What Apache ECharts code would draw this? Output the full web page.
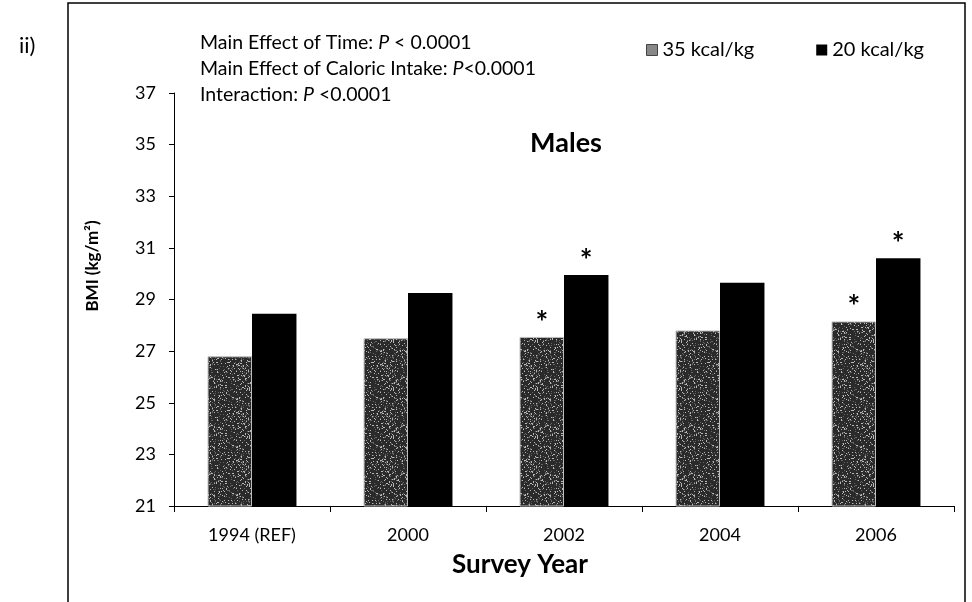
<!DOCTYPE html>
<html>
<head>
<meta charset="utf-8">
<script src="https://cdn.jsdelivr.net/npm/echarts@6/dist/echarts.min.js"></script>
<style>html,body{margin:0;padding:0;background:#fff}#chart{width:972px;height:602px}</style>
</head>
<body>
<div id="chart"></div>
<script>
const categories = ['1994 (REF)', '2000', '2002', '2004', '2006'];
const kcal35 = [26.8, 27.5, 27.55, 27.8, 28.15];
const kcal20 = [28.45, 29.25, 29.95, 29.65, 30.6];
const sig35 = [false, false, true, false, true];
const sig20 = [false, false, true, false, true];
const yTicks = [21, 23, 25, 27, 29, 31, 33, 35, 37];
const seriesNames = ['35 kcal/kg', '20 kcal/kg'];

const FONT = 'Lato';

function speckle() {
  const c = document.createElement('canvas');
  c.width = 48; c.height = 48;
  const ctx = c.getContext('2d');
  ctx.fillStyle = '#2a2a2a';
  ctx.fillRect(0, 0, 48, 48);
  for (let y = 0; y < 48; y++) {
    for (let x = 0; x < 48; x++) {
      const h = ((x * 73856093) ^ (y * 19349663) ^ (x * y * 83492791)) >>> 0;
      const v = h % 100;
      if (v < 10) { ctx.fillStyle = '#b8b8b8'; ctx.fillRect(x, y, 1, 1); }
      else if (v < 20) { ctx.fillStyle = '#666'; ctx.fillRect(x, y, 1, 1); }
    }
  }
  return c;
}

function checker() {
  const c = document.createElement('canvas');
  c.width = 2; c.height = 2;
  const ctx = c.getContext('2d');
  ctx.fillStyle = '#555'; ctx.fillRect(0, 0, 2, 2);
  ctx.fillStyle = '#bbb'; ctx.fillRect(0, 0, 1, 1); ctx.fillRect(1, 1, 1, 1);
  return c;
}

function withMarks(vals, flags) {
  return vals.map((v, i) => flags[i]
    ? { value: v, label: { show: true } }
    : { value: v });
}

const starLabel = {
  show: false, position: 'top', distance: -1, formatter: '*',
  fontSize: 30, fontWeight: 'bold', color: '#000', fontFamily: FONT
};

const chart = echarts.init(document.getElementById('chart'), null, { renderer: 'canvas' });
chart.setOption({
  animation: false,
  backgroundColor: '#fff',
  grid: { left: 174, right: 18, top: 93, bottom: 96, containLabel: false },
  legend: {
    data: [
      { name: seriesNames[0], itemStyle: { color: { image: checker(), repeat: 'repeat' }, borderColor: '#444', borderWidth: 1 } },
      { name: seriesNames[1], itemStyle: { color: '#000' } }
    ],
    left: 641, top: 35, itemWidth: 11, itemHeight: 11, itemGap: 62, icon: 'rect',
    textStyle: { fontFamily: FONT, fontSize: 20, color: '#000' },
    selectedMode: false
  },
  title: {
    text: 'Males', left: 561, top: 125, textAlign: 'center',
    textStyle: { fontFamily: FONT, fontSize: 27, fontWeight: 'bold', color: '#000' }
  },
  xAxis: {
    type: 'category', data: categories,
    name: 'Survey Year', nameLocation: 'middle', nameGap: 46,
    nameTextStyle: { fontFamily: FONT, fontSize: 26, fontWeight: 'bold', color: '#000', padding: [0, 88, 0, 0] },
    axisLine: { lineStyle: { color: '#000', width: 1 } },
    axisTick: { show: true, length: 6, lineStyle: { color: '#000' } },
    axisLabel: { fontFamily: FONT, fontSize: 18, color: '#000', margin: 20 },
    splitLine: { show: false }
  },
  yAxis: {
    type: 'value', min: yTicks[0], max: yTicks[yTicks.length - 1], interval: 2,
    axisLine: { show: true, lineStyle: { color: '#000', width: 1 } },
    axisTick: { show: true, length: 5, lineStyle: { color: '#000' } },
    axisLabel: { fontFamily: FONT, fontSize: 18, color: '#000', margin: 18 },
    splitLine: { show: false }
  },
  series: [
    {
      name: seriesNames[0], type: 'bar', data: withMarks(kcal35, sig35),
      barGap: '0%', barCategoryGap: '43%',
      itemStyle: { color: { image: speckle(), repeat: 'repeat' }, borderColor: '#bdbdbd', borderWidth: 1 },
      label: starLabel
    },
    {
      name: seriesNames[1], type: 'bar', data: withMarks(kcal20, sig20),
      barGap: '0%', barCategoryGap: '43%',
      itemStyle: { color: '#000' },
      label: starLabel
    }
  ],
  graphic: [
    { type: 'polyline', shape: { points: [[68, 602], [68, 3], [965, 3], [965, 602]] },
      style: { stroke: '#000', lineWidth: 1.5, fill: null }, silent: true },
    { type: 'text', left: 19, top: 35,
      style: { text: 'ii)', fontFamily: FONT, fontSize: 22, fill: '#000' } },
    { type: 'text', left: 200, top: 30,
      style: {
        text: 'Main Effect of Time: {i|P} < 0.0001\nMain Effect of Caloric Intake: {i|P}<0.0001\nInteraction: {i|P} <0.0001',
        fontFamily: FONT, fontSize: 19.5, fill: '#000', lineHeight: 26,
        rich: { i: { fontStyle: 'italic', fontFamily: FONT, fontSize: 19.5 } }
      } },
    { type: 'text', x: 93, y: 266, rotation: Math.PI / 2,
      style: { text: 'BMI (kg/m²)', fontFamily: FONT, fontSize: 17, fontWeight: 'bold', fill: '#000',
        align: 'center', verticalAlign: 'middle' } }
  ]
});
</script>
</body>
</html>
